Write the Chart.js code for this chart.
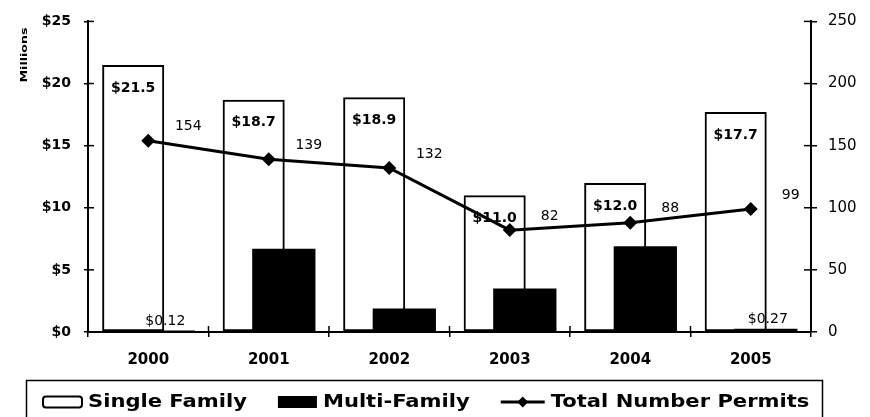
<!DOCTYPE html>
<html>
<head>
<meta charset="utf-8">
<title>Building permits</title>
<script src="https://cdn.jsdelivr.net/npm/chart.js@4.4.1/dist/chart.umd.min.js"></script>
<style>
    html, body { margin: 0; padding: 0; background: #fff; }
    #wrap { width: 870px; height: 417px; position: relative; }
</style>
</head>
<body>
<div id="wrap"><canvas id="permitChart"></canvas></div>
<script>
'use strict';

const years = ['2000', '2001', '2002', '2003', '2004', '2005'];
const singleFamily = [21.5, 18.7, 18.9, 11.0, 12.0, 17.7];
const multiFamily = [0.12, 6.7, 1.9, 3.5, 6.9, 0.27];
const totalPermits = [154, 139, 132, 82, 88, 99];
const seriesNames = ['Single Family', 'Multi-Family', 'Total Number Permits'];

const FONT = '"DejaVu Sans", sans-serif';

function strokeLine(ctx, x1, y1, x2, y2) {
    ctx.beginPath();
    ctx.moveTo(x1, y1);
    ctx.lineTo(x2, y2);
    ctx.stroke();
}

// inward halves of the tick marks (chart.js only draws them outward)
const axisMarks = {
    id: 'axisMarks',
    afterDatasetsDraw(chart) {
        const { ctx, chartArea: area, scales } = chart;
        ctx.save();
        ctx.strokeStyle = '#000';
        ctx.lineWidth = 1.5;
        scales.y.ticks.forEach((t, i) => {
            const py = scales.y.getPixelForTick(i);
            strokeLine(ctx, area.left, py, area.left + 6, py);
        });
        scales.y1.ticks.forEach((t, i) => {
            const py = scales.y1.getPixelForTick(i);
            strokeLine(ctx, area.right - 7, py, area.right, py);
        });
        for (let i = 0; i <= years.length; i += 1) {
            const px = scales.x.getPixelForValue(i - 0.5);
            strokeLine(ctx, px, area.bottom - 6, px, area.bottom);
        }
        ctx.restore();
    }
};

const valueLabels = {
    id: 'valueLabels',
    afterDatasetDraw(chart, args) {
        const ctx = chart.ctx;
        const values = chart.data.datasets[args.index].data;
        ctx.save();
        ctx.fillStyle = '#000';
        ctx.textAlign = 'center';
        ctx.textBaseline = 'middle';
        args.meta.data.forEach((el, i) => {
            const v = values[i];
            if (args.index === 0) {
                ctx.font = `bold 14px ${FONT}`;
                ctx.fillText('$' + v.toFixed(1), el.x, el.y + 23);
            } else if (args.index === 1) {
                if (el.base - el.y < 20) {
                    ctx.font = `14px ${FONT}`;
                    ctx.fillText('$' + v.toFixed(2), el.x + 2, el.y - 9);
                }
            } else {
                ctx.font = `14px ${FONT}`;
                ctx.fillText(String(v), el.x + 40, el.y - 14);
            }
        });
        ctx.restore();
    }
};

const sideTitle = {
    id: 'sideTitle',
    afterDraw(chart) {
        const ctx = chart.ctx;
        ctx.save();
        ctx.translate(25, 55);
        ctx.rotate(-Math.PI / 2);
        ctx.scale(1.4, 1);
        ctx.fillStyle = '#000';
        ctx.font = `bold 9px ${FONT}`;
        ctx.textAlign = 'center';
        ctx.textBaseline = 'middle';
        ctx.fillText('Millions', 0, 0);
        ctx.restore();
    }
};

const boxedLegend = {
    id: 'boxedLegend',
    afterDraw(chart) {
        const ctx = chart.ctx;
        const stretch = 1.24;
        const midY = 402;
        ctx.save();
        ctx.strokeStyle = '#000';
        ctx.lineWidth = 1.5;
        ctx.strokeRect(26.5, 380.5, 796, 60);

        ctx.font = `bold 17px ${FONT}`;
        ctx.fillStyle = '#000';
        ctx.textBaseline = 'alphabetic';
        let x = 43;
        seriesNames.forEach((name, i) => {
            const iconW = i === 2 ? 44 : 39;
            ctx.lineWidth = 2;
            if (i === 0) {
                ctx.beginPath();
                ctx.roundRect(x, midY - 5.5, iconW, 11, 3);
                ctx.stroke();
            } else if (i === 1) {
                ctx.fillRect(x, midY - 6, iconW, 12);
            } else {
                ctx.lineWidth = 3;
                strokeLine(ctx, x, midY, x + iconW, midY);
                const cx = x + iconW / 2;
                ctx.beginPath();
                ctx.moveTo(cx, midY - 5.5);
                ctx.lineTo(cx + 5.5, midY);
                ctx.lineTo(cx, midY + 5.5);
                ctx.lineTo(cx - 5.5, midY);
                ctx.closePath();
                ctx.fill();
            }
            x += iconW + 6;
            const w = ctx.measureText(name).width * stretch;
            ctx.save();
            ctx.translate(x, 407);
            ctx.scale(stretch, 1);
            ctx.fillText(name, 0, 0);
            ctx.restore();
            x += w + 31;
        });
        ctx.restore();
    }
};

const tickFont = (size, weight) => ({ family: FONT, size, weight });

new Chart(document.getElementById('permitChart'), {
    type: 'bar',
    data: {
        labels: years,
        datasets: [
            {
                label: seriesNames[0],
                data: singleFamily,
                yAxisID: 'y',
                backgroundColor: 'rgba(255,255,255,0)',
                borderColor: '#000',
                borderWidth: 2,
                borderSkipped: false,
                categoryPercentage: 0.5,
                barPercentage: 2.06
            },
            {
                label: seriesNames[1],
                data: multiFamily,
                yAxisID: 'y',
                backgroundColor: '#000',
                borderColor: '#000',
                borderWidth: 0,
                categoryPercentage: 0.5,
                barPercentage: 2.1
            },
            {
                type: 'line',
                label: seriesNames[2],
                data: totalPermits,
                yAxisID: 'y1',
                order: -1,
                borderColor: '#000',
                borderWidth: 3,
                tension: 0,
                pointStyle: 'rectRot',
                pointRadius: 7,
                pointBackgroundColor: '#000',
                pointBorderColor: '#000',
                pointBorderWidth: 0
            }
        ]
    },
    options: {
        responsive: true,
        maintainAspectRatio: false,
        animation: false,
        events: [],
        layout: { padding: { top: 20, bottom: 45, left: 0, right: 0 } },
        plugins: {
            legend: { display: false },
            tooltip: { enabled: false }
        },
        scales: {
            x: {
                grid: { display: true, drawOnChartArea: false, tickLength: 5, color: '#000', lineWidth: 1.5 },
                border: { display: true, color: '#000', width: 2 },
                ticks: { color: '#000', font: tickFont(15, 'bold'), padding: 14, maxRotation: 0 },
                afterFit: (s) => { s.height = 40; }
            },
            y: {
                position: 'left',
                min: 0,
                max: 25,
                grid: { display: true, drawOnChartArea: false, tickLength: 4, color: '#000', lineWidth: 1.5 },
                border: { display: true, color: '#000', width: 2 },
                ticks: {
                    stepSize: 5,
                    color: '#000',
                    font: tickFont(14, 'bold'),
                    padding: 13,
                    callback: (v) => '$' + v
                },
                afterFit: (s) => { s.width = 88; }
            },
            y1: {
                position: 'right',
                min: 0,
                max: 250,
                grid: { display: true, drawOnChartArea: false, tickLength: 6, color: '#000', lineWidth: 1.5 },
                border: { display: true, color: '#000', width: 2 },
                ticks: { stepSize: 50, color: '#000', font: tickFont(15, 'normal'), padding: 11 },
                afterFit: (s) => { s.width = 59; }
            }
        }
    },
    plugins: [axisMarks, valueLabels, sideTitle, boxedLegend]
});
</script>
</body>
</html>
